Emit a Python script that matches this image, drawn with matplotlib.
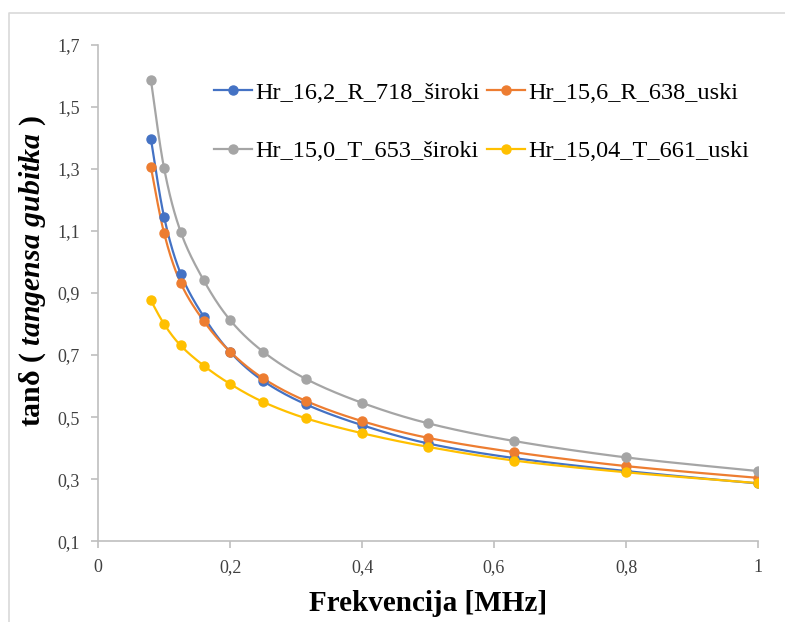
import numpy as np
import matplotlib
matplotlib.use("Agg")
import matplotlib.pyplot as plt
from matplotlib.ticker import FuncFormatter
from matplotlib.lines import Line2D

plt.rcParams['font.family'] = ['Liberation Serif', 'DejaVu Serif']
plt.rcParams['mathtext.fontset'] = 'custom'
plt.rcParams['mathtext.it'] = 'Liberation Serif:italic:bold'
plt.rcParams['mathtext.rm'] = 'Liberation Serif:bold'

# frequency in MHz
freq = [0.08, 0.1, 0.125, 0.16, 0.2, 0.25, 0.315, 0.4, 0.5, 0.63, 0.8, 1.0]

hr_16_2_R = [1.397, 1.145, 0.963, 0.824, 0.71, 0.617, 0.541, 0.474, 0.415, 0.368, 0.326, 0.286]
hr_15_6_R = [1.306, 1.093, 0.933, 0.810, 0.711, 0.625, 0.552, 0.487, 0.433, 0.387, 0.342, 0.304]
hr_15_0_T = [1.587, 1.302, 1.098, 0.941, 0.813, 0.711, 0.623, 0.546, 0.480, 0.423, 0.370, 0.326]
hr_15_04_T = [0.876, 0.800, 0.731, 0.666, 0.607, 0.549, 0.496, 0.448, 0.404, 0.360, 0.322, 0.287]

names = ["Hr_16,2_R_718_široki", "Hr_15,6_R_638_uski",
         "Hr_15,0_T_653_široki", "Hr_15,04_T_661_uski"]
colors = ["#4472C4", "#ED7D31", "#A5A5A5", "#FFC000"]


def smooth(x, y, n=30):
    # catmull-rom through the points, like excel's smoothed line
    x = np.asarray(x, float)
    y = np.asarray(y, float)
    px = np.concatenate([[x[0]], x, [x[-1]]])
    py = np.concatenate([[y[0]], y, [y[-1]]])
    t = np.linspace(0, 1, n)
    xs, ys = [], []
    for i in range(1, len(px) - 2):
        for p, out in ((px, xs), (py, ys)):
            p0, p1, p2, p3 = p[i - 1], p[i], p[i + 1], p[i + 2]
            c1 = p1 + (p2 - p0) / 6
            c2 = p2 - (p3 - p1) / 6
            out.extend((1 - t) ** 3 * p1 + 3 * (1 - t) ** 2 * t * c1
                       + 3 * (1 - t) * t ** 2 * c2 + t ** 3 * p2)
    return np.array(xs), np.array(ys)


fig = plt.figure(figsize=(7.85, 6.22), dpi=100)
ax = fig.add_axes([0.125, 0.130, 0.8406, 0.7977])

series = [hr_16_2_R, hr_15_6_R, hr_15_0_T, hr_15_04_T]
handles = []
for vals, name, c in zip(series, names, colors):
    sx, sy = smooth(freq, vals)
    ax.plot(sx, sy, color=c, lw=1.6, zorder=2)
    ax.plot(freq, vals, 'o', color=c, ms=6.5, zorder=3)
    handles.append(Line2D([], [], color=c, lw=1.6, marker='o', ms=6.5, label=name))

ax.set_xlim(0, 1)
ax.set_ylim(0.1, 1.7)
ax.set_xticks(np.arange(0, 1.01, 0.2))
ax.set_yticks(np.arange(0.1, 1.71, 0.2))
fmt = FuncFormatter(lambda v, p: ('%g' % round(v, 2)).replace('.', ','))
ax.xaxis.set_major_formatter(fmt)
ax.yaxis.set_major_formatter(fmt)

for s in ['top', 'right']:
    ax.spines[s].set_visible(False)
for s in ['left', 'bottom']:
    ax.spines[s].set_color('#BFBFBF')
    ax.spines[s].set_linewidth(1.2)
ax.tick_params(colors='#BFBFBF', labelcolor='#404040', labelsize=13, length=5, width=1.2, pad=8)

ax.set_xlabel("Frekvencija [MHz]", fontsize=21, fontweight='bold', labelpad=10)
ax.set_ylabel(r"tanδ ( $\mathit{tangensa\ gubitka}$ )", fontsize=21.5, fontweight='bold')
ax.yaxis.set_label_coords(-0.076, 0.545)

order = [0, 2, 1, 3]
ax.legend([handles[i] for i in order], [names[i] for i in order], ncol=2, frameon=False,
          loc='upper left', bbox_to_anchor=(0.157, 0.95), fontsize=17.5,
          handlelength=1.55, handletextpad=0.15, columnspacing=0.3, labelspacing=1.5,
          borderpad=0)

# chart border (top and left edges visible in the original)
fig.add_artist(Line2D([9 / 785, 9 / 785, 1], [0, 1 - 13 / 622, 1 - 13 / 622],
                      transform=fig.transFigure, color='#D9D9D9', lw=1.2))

fig.savefig("out.png", dpi=100)
